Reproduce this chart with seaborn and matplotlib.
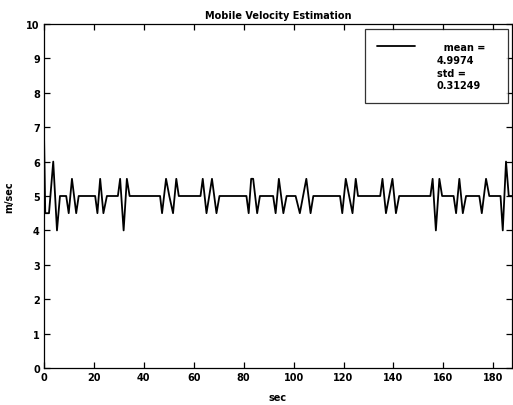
import matplotlib
matplotlib.use("Agg")
import matplotlib.pyplot as plt
from matplotlib.lines import Line2D
import seaborn as sns
import pandas as pd

# Breakpoints of the estimated velocity trace (sec, m/sec)
t_sec = [0.0, 0.5, 2.0, 3.7, 5.2, 6.4,
         8.9, 9.9, 11.2, 12.9, 13.9,
         20.5, 21.4, 22.5, 23.8, 25.2,
         29.6, 30.5, 31.9, 33.2, 34.3,
         46.5, 47.3, 48.9, 50.2, 51.7, 53.0, 54.0,
         62.7, 63.6, 65.1, 67.3, 69.1, 70.3,
         81.1, 82.0, 83.0, 83.8, 85.4, 86.5,
         91.8, 92.8, 94.1, 95.9, 97.2,
         100.8, 102.5, 105.1, 106.8, 107.9,
         118.6, 119.5, 120.9, 123.6, 124.9, 125.8,
         134.7, 135.6, 137.0, 139.6, 141.0, 142.3,
         154.8, 155.7, 157.0, 158.4, 159.5,
         164.1, 165.1, 166.4, 167.8, 169.1,
         174.4, 175.4, 177.1, 178.4,
         182.9, 183.8, 185.1, 186.2, 187.5]
velocity = [6.8, 4.5, 4.5, 6.0, 4.0, 5.0,
            5.0, 4.5, 5.5, 4.5, 5.0,
            5.0, 4.5, 5.5, 4.5, 5.0,
            5.0, 5.5, 4.0, 5.5, 5.0,
            5.0, 4.5, 5.5, 5.0, 4.5, 5.5, 5.0,
            5.0, 5.5, 4.5, 5.5, 4.5, 5.0,
            5.0, 4.5, 5.5, 5.5, 4.5, 5.0,
            5.0, 4.5, 5.5, 4.5, 5.0,
            5.0, 4.5, 5.5, 4.5, 5.0,
            5.0, 4.5, 5.5, 4.5, 5.5, 5.0,
            5.0, 5.5, 4.5, 5.5, 4.5, 5.0,
            5.0, 5.5, 4.0, 5.5, 5.0,
            5.0, 4.5, 5.5, 4.5, 5.0,
            5.0, 4.5, 5.5, 5.0,
            5.0, 4.0, 6.0, 5.0, 5.0]

x_ticks = [0, 20, 40, 60, 80, 100, 120, 140, 160, 180]
y_ticks = list(range(0, 11))
legend_first = "  mean =   "
legend_rest = "4.9974\nstd =\n0.31249"
title = "Mobile Velocity Estimation"

sns.set_style("ticks", rc={"text.color": "black", "axes.labelcolor": "black",
                           "xtick.color": "black", "ytick.color": "black",
                           "axes.edgecolor": "black"})
plt.rcParams['font.family'] = ['DejaVu Sans']
plt.rcParams['font.weight'] = 'bold'

fig = plt.figure(figsize=(5.13, 4.06), dpi=100)
ax = fig.add_axes([44/513, 1-369/406, 468/513, 344/406])

df = pd.DataFrame({"sec": t_sec, "v": velocity})
sns.lineplot(data=df, x="sec", y="v", color="black", linewidth=1.3,
             estimator=None, sort=False, ax=ax)

ax.set_xlim(0, 187.5)
ax.set_ylim(0, 10)
ax.set_xticks(x_ticks)
ax.set_yticks(y_ticks)
ax.tick_params(direction="in", length=4, width=0.9, labelsize=7,
               top=True, right=True, pad=3, colors="black")
for lab in ax.get_xticklabels() + ax.get_yticklabels():
    lab.set_fontweight("bold")
for s in ax.spines.values():
    s.set_visible(True)
    s.set_linewidth(0.9)
    s.set_color("black")

ax.set_xlabel("sec", fontsize=7, fontweight="bold", labelpad=7, color="black")
ax.set_ylabel("m/sec", fontsize=7, fontweight="bold", labelpad=9, color="black")
ax.set_title(title, fontsize=7, fontweight="bold", pad=4, color="black")

handles = [Line2D([], [], color="black", linewidth=1.3),
           Line2D([], [], color="none", linewidth=0)]
leg = ax.legend(handles, [legend_first, legend_rest],
                loc="upper right", bbox_to_anchor=(0.991, 0.985),
                borderaxespad=0, frameon=True, fancybox=False,
                prop={"size": 7, "weight": "bold"}, handlelength=3.9,
                handletextpad=2.2, borderpad=1.3, labelspacing=0.35)
leg.get_frame().set_edgecolor("black")
leg.get_frame().set_linewidth(0.9)
for txt in leg.get_texts():
    txt.set_linespacing(1.3)
    txt.set_color("black")

fig.savefig("out.png", dpi=100)
